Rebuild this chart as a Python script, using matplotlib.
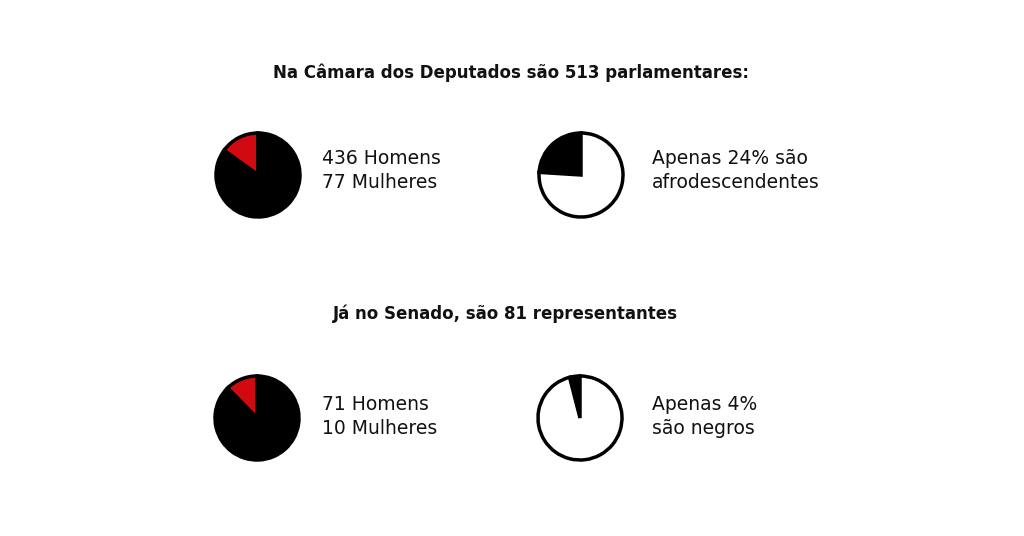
import matplotlib
matplotlib.use("Agg")
from matplotlib import pyplot as plt

plt.rcParams['font.family'] = ['DejaVu Sans']

W, H = 1024, 536

# dados
camara_genero = [436, 77]          # homens, mulheres
camara_afro = [24, 76]             # afrodescendentes %, resto
senado_genero = [71, 10]
senado_negros = [4, 96]

titulos = ["Na Câmara dos Deputados são 513 parlamentares:",
           "Já no Senado, são 81 representantes"]
textos = [["436 Homens", "77 Mulheres"],
          ["Apenas 24% são", "afrodescendentes"],
          ["71 Homens", "10 Mulheres"],
          ["Apenas 4%", "são negros"]]

vermelho = "#d10a11"

fig = plt.figure(figsize=(W / 100, H / 100), dpi=100)
fig.patch.set_facecolor("white")


def pizza(cx, cy, valores, cores, r=42):
    # primeira fatia parte do topo no sentido anti-horario
    pad = 1.06
    ax = fig.add_axes([(cx - r * pad) / W, (H - cy - r * pad) / H,
                       2 * r * pad / W, 2 * r * pad / H])
    ax.pie(valores, colors=cores, startangle=90, counterclock=True,
           wedgeprops=dict(edgecolor="black", linewidth=2.5))
    ax.set_xlim(-pad, pad)
    ax.set_ylim(-pad, pad)
    ax.set_aspect("equal")
    ax.axis("off")


pizza(258, 175, [camara_genero[1], camara_genero[0]], [vermelho, "black"])
pizza(581, 175, camara_afro, ["black", "white"])
pizza(257, 418, [senado_genero[1], senado_genero[0]], [vermelho, "black"])
pizza(580, 418, senado_negros, ["black", "white"])

fig.text(511 / W, 1 - 73 / H, titulos[0], ha="center", va="center",
         fontsize=12, fontweight="bold", color="#111111")
fig.text(505 / W, 1 - 314 / H, titulos[1], ha="center", va="center",
         fontsize=12, fontweight="bold", color="#111111")

pos = [(322, 158), (652, 158), (322, 404), (652, 404)]
for (x, y), linhas in zip(pos, textos):
    for k, linha in enumerate(linhas):
        fig.text(x / W, 1 - (y + 24 * k) / H, linha, ha="left", va="center",
                 fontsize=13.5, color="#111111")

fig.savefig("out.png", dpi=100, facecolor="white")
